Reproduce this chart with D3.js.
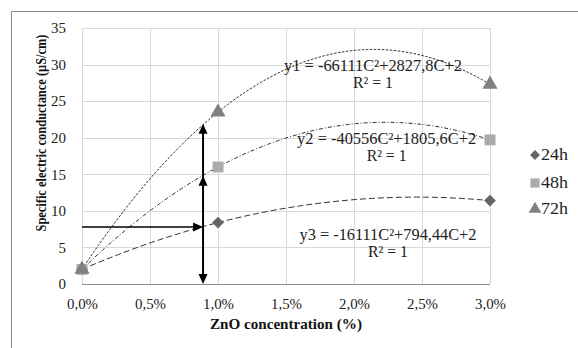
<!DOCTYPE html>
<html><head><meta charset="utf-8">
<script src="https://cdn.jsdelivr.net/npm/d3@7"></script>
<style>
html,body{margin:0;padding:0;background:#fff;}
</style></head><body>
<svg id="c" width="578" height="348"></svg>
<script>
// ---- data ----
const concentrations = [0, 0.01, 0.03];            // ZnO fraction
const series = ["24h", "48h", "72h"];
const values24h = [2, 8.4, 11.4];
const values48h = [2, 16.0, 19.7];
const values72h = [2, 23.5, 27.3];
const xTicks = [0, 0.005, 0.01, 0.015, 0.02, 0.025, 0.03];
const xTickLabels = ["0,0%", "0,5%", "1,0%", "1,5%", "2,0%", "2,5%", "3,0%"];
const yTicks = [0, 5, 10, 15, 20, 25, 30, 35];
const equations = ["y1 = -66111C\u00B2+2827,8C+2", "y2 = -40556C\u00B2+1805,6C+2", "y3 = -16111C\u00B2+794,44C+2"];
const r2Labels = ["R\u00B2 = 1", "R\u00B2 = 1", "R\u00B2 = 1"];
const eqAnchor = [[0.0214, 29.1], [0.0224, 19.1], [0.0225, 6.0]]; // [C, value] of label
const arrowC = 0.0089;
const arrowValues = [21.9, 14.8, 7.8, 0];

const FONT = '"Liberation Serif", "Times New Roman", serif';
const svg = d3.select("#c");
const W = 578, H = 348;
const m = {l: 82, t: 28, r: 490, b: 284};
const x = d3.scaleLinear().domain([0, 0.03]).range([m.l, m.r]);
const y = d3.scaleLinear().domain([0, 35]).range([m.b, m.t]);

// outer border
svg.append("rect").attr("x", 11.5).attr("y", 11.5).attr("width", W).attr("height", H)
  .attr("fill", "none").attr("stroke", "#8a8a8a").attr("stroke-width", 1);

// gridlines
svg.append("g").selectAll("line").data(yTicks.slice(1)).join("line")
  .attr("x1", m.l).attr("x2", m.r).attr("y1", d => Math.round(y(d)) + 0.5).attr("y2", d => Math.round(y(d)) + 0.5)
  .attr("stroke", "#d9d9d9");
svg.append("g").selectAll("line").data(xTicks).join("line")
  .attr("y1", m.t).attr("y2", m.b).attr("x1", d => Math.round(x(d)) + 0.5).attr("x2", d => Math.round(x(d)) + 0.5)
  .attr("stroke", "#d9d9d9");
svg.append("line").attr("x1", m.l).attr("x2", m.r).attr("y1", Math.round(y(0)) + 0.5).attr("y2", Math.round(y(0)) + 0.5)
  .attr("stroke", "#8c8c8c");

// axes labels via d3 axes
const xa = svg.append("g").attr("transform", `translate(0,${m.b})`)
  .call(d3.axisBottom(x).tickValues(xTicks).tickFormat((d, i) => xTickLabels[i]).tickSize(0).tickPadding(14));
xa.select(".domain").remove();
xa.selectAll("text").attr("font-size", 15).attr("fill", "#222")
  .attr("textLength", 31).attr("lengthAdjust", "spacingAndGlyphs");
const ya = svg.append("g").attr("transform", `translate(${m.l},0)`)
  .call(d3.axisLeft(y).tickValues(yTicks).tickFormat(d3.format("d")).tickSize(0).tickPadding(16));
ya.select(".domain").remove();
ya.selectAll("text").attr("font-size", 15).attr("fill", "#222");

// axis titles
svg.append("text").attr("x", 286).attr("y", 329).attr("text-anchor", "middle")
  .attr("font-weight", "bold").attr("font-size", 15).attr("fill", "#111")
  .attr("textLength", 152).attr("lengthAdjust", "spacingAndGlyphs")
  .text("ZnO concentration (%)");
svg.append("text").attr("transform", "translate(46,133) rotate(-90)").attr("text-anchor", "middle")
  .attr("font-weight", "bold").attr("font-size", 14).attr("fill", "#111")
  .attr("textLength", 197).attr("lengthAdjust", "spacingAndGlyphs")
  .text("Specific electric conductance (\u00B5S/cm)");

// quadratic trendline fitted through the data points (Lagrange)
function fit(xs, ys) {
  return c => {
    let s = 0;
    for (let i = 0; i < xs.length; i++) {
      let p = ys[i];
      for (let j = 0; j < xs.length; j++) if (j !== i) p *= (c - xs[j]) / (xs[i] - xs[j]);
      s += p;
    }
    return s;
  };
}
const allValues = [values24h, values48h, values72h];
const dashes = ["6,3", "4,2,1,2", "2.5,1.5"];
const grid = d3.range(0, 0.03 + 1e-9, 0.0003);
const line = d3.line().x(d => x(d[0])).y(d => y(d[1]));
allValues.forEach((vals, i) => {
  const f = fit(concentrations, vals);
  svg.append("path").attr("d", line(grid.map(c => [c, f(c)])))
    .attr("fill", "none").attr("stroke", "#303030").attr("stroke-width", 1)
    .attr("stroke-dasharray", dashes[i]);
});

// arrows
const ax = x(arrowC);
const arrowG = svg.append("g");
arrowG.append("line").attr("x1", ax).attr("x2", ax).attr("y1", y(arrowValues[0]) + 6).attr("y2", y(arrowValues[3]) - 6)
  .attr("stroke", "#000").attr("stroke-width", 2);
arrowG.append("line").attr("x1", x(0)).attr("x2", ax - 6).attr("y1", y(arrowValues[2])).attr("y2", y(arrowValues[2]))
  .attr("stroke", "#000").attr("stroke-width", 1.6);
function head(cx, cy, dir) {
  const L = 10, w = 4.5;
  let pts;
  if (dir === "up") pts = [[cx, cy], [cx - w, cy + L], [cx + w, cy + L]];
  if (dir === "down") pts = [[cx, cy], [cx - w, cy - L], [cx + w, cy - L]];
  if (dir === "right") pts = [[cx, cy], [cx - L, cy - w], [cx - L, cy + w]];
  arrowG.append("polygon").attr("points", pts.map(p => p.join(",")).join(" ")).attr("fill", "#000");
}
head(ax, y(arrowValues[0]), "up");
head(ax, y(arrowValues[1]), "up");
head(ax, y(arrowValues[2]), "right");
head(ax, y(arrowValues[3]), "down");

// markers (diamond = square rotated 45deg)
const colors = ["#666666", "#ababab", "#808080"];
const sym = [d3.symbolSquare, d3.symbolSquare, d3.symbolTriangle];
const rot = [45, 0, 0];
const sizes = [70, 120, 100];
allValues.forEach((vals, i) => {
  svg.append("g").selectAll("path").data(vals).join("path")
    .attr("transform", (d, k) => `translate(${x(concentrations[k])},${y(d)}) rotate(${rot[i]})`)
    .attr("d", d3.symbol().type(sym[i]).size(sizes[i])())
    .attr("fill", colors[i]);
});

// equations
const eqLens = [178, 179, 177];
equations.forEach((t, i) => {
  const px = x(eqAnchor[i][0]), py = y(eqAnchor[i][1]);
  svg.append("text").attr("x", px).attr("y", py).attr("text-anchor", "middle")
    .attr("font-size", 16).attr("fill", "#222")
    .attr("textLength", eqLens[i]).attr("lengthAdjust", "spacingAndGlyphs").text(t);
  svg.append("text").attr("x", px).attr("y", py + 17).attr("text-anchor", "middle")
    .attr("font-size", 16).attr("fill", "#222")
    .attr("textLength", 40).attr("lengthAdjust", "spacingAndGlyphs").text(r2Labels[i]);
});

// legend
const lg = svg.append("g");
series.forEach((s, i) => {
  const cy = [155, 183, 209][i];
  lg.append("path").attr("transform", `translate(535,${cy}) rotate(${rot[i]})`)
    .attr("d", d3.symbol().type(sym[i]).size(sizes[i] * 0.7)()).attr("fill", colors[i]);
  lg.append("text").attr("x", 541).attr("y", cy + 5).attr("font-size", 16).attr("fill", "#222")
    .attr("textLength", 27).attr("lengthAdjust", "spacingAndGlyphs").text(s);
});

svg.selectAll("text").style("font-family", FONT);
</script>
</body></html>
